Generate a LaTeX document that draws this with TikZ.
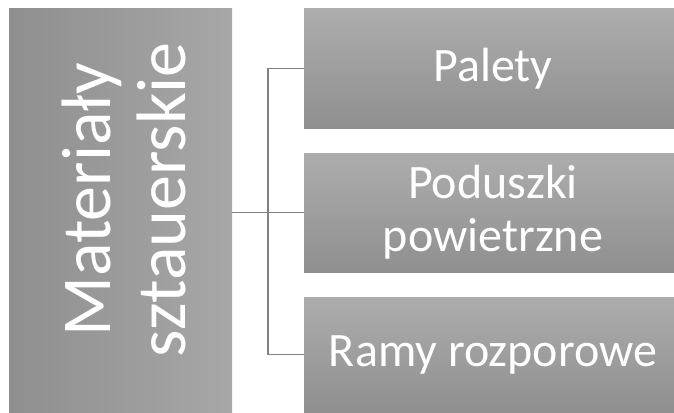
\documentclass[tikz,border=0pt]{standalone}
\usepackage{fontspec}
\setmainfont{Carlito}
\begin{document}
\begin{tikzpicture}[x=1pt,y=-1pt,
  leftbox/.style={draw=none, left color=lgL, right color=lgR, minimum width=223pt, minimum height=403pt, inner sep=0pt},
  rightbox/.style={draw=none, top color=rgT, bottom color=rgB, minimum width=370pt, minimum height=119pt, inner sep=0pt, text=white, align=center, font=\fontsize{48}{53}\selectfont},
  conn/.style={draw=lineC, line width=1.6pt}
]
\definecolor{lgL}{HTML}{8F8F8F}
\definecolor{lgR}{HTML}{A7A7A7}
\definecolor{rgT}{HTML}{ADADAD}
\definecolor{rgB}{HTML}{8F8F8F}
\definecolor{lineC}{HTML}{808080}
\useasboundingbox (0,0) rectangle (674,412);
\node[leftbox] (L) at (120.5,210.5) {};
\node[rotate=90, text=white, align=center, font=\fontsize{70}{75}\selectfont] (Lt) at (124,200) {Materiały\\sztauerskie};
\node[rightbox] (R1) at (489,68.5) {\hspace*{8pt}Palety};
\node[rightbox] (R2) at (489,212.5) {\hspace*{8pt}Poduszki\\\hspace*{8pt}powietrzne};
\node[rightbox, minimum height=115pt] (R3) at (489,354.5) {\hspace*{8pt}Ramy rozporowe};
\path (R1.west) ++(-36,0) coordinate (j1);
\draw[conn] (L.east |- R2.west) -- (R2.west);
\draw[conn] (R1.west) -- (j1) |- (R3.west);
\end{tikzpicture}
\end{document}
